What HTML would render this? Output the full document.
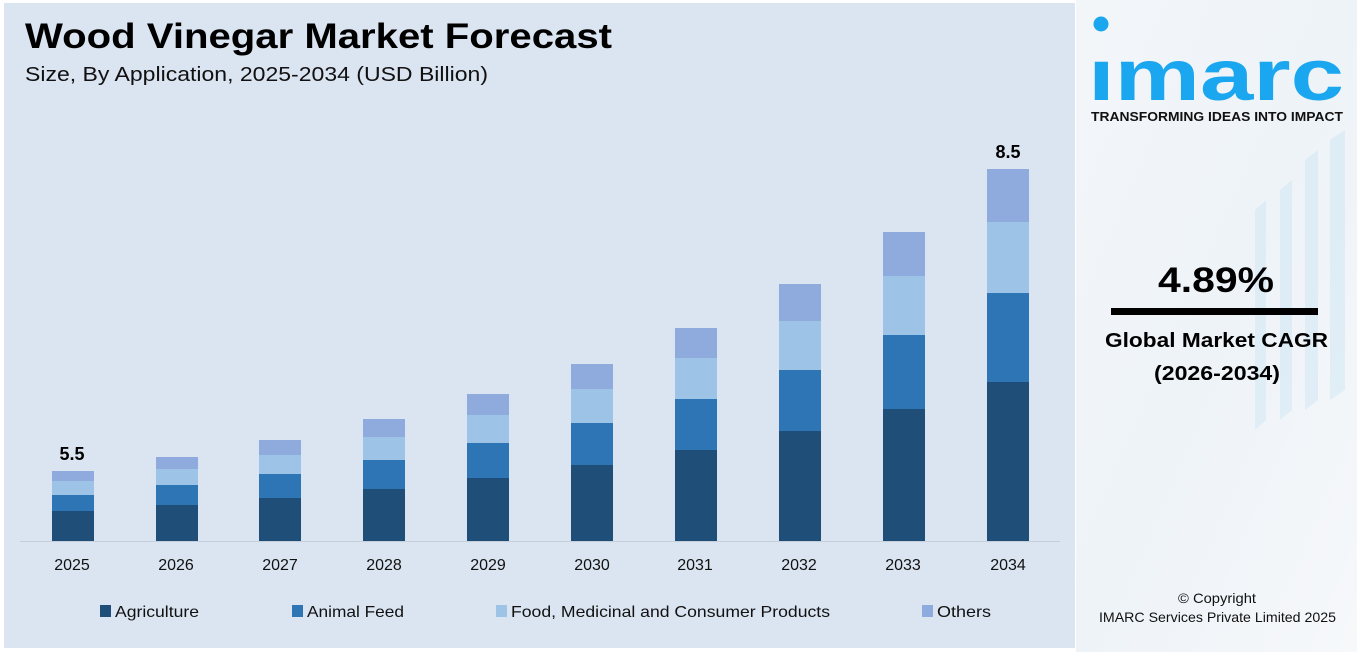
<!DOCTYPE html>
<html><head><meta charset="utf-8"><style>
body{margin:0;width:1357px;height:652px;overflow:hidden;background:#fff;font-family:"Liberation Sans",sans-serif}
</style></head><body>
<svg width="1357" height="652" xmlns="http://www.w3.org/2000/svg" font-family="Liberation Sans, sans-serif">
<defs><linearGradient id="rg" x1="0" y1="0" x2="1" y2="1"><stop offset="0" stop-color="#f3f6f9"/><stop offset="0.5" stop-color="#eef3f8"/><stop offset="1" stop-color="#f6f8fa"/></linearGradient></defs>
<rect x="0" y="0" width="1357" height="652" fill="#fff"/>
<rect x="4" y="3" width="1071" height="645" fill="#dbe4f1"/>
<rect x="1076" y="0" width="281" height="652" fill="url(#rg)"/>
<g opacity="0.35" fill="#bfe0f2">
<polygon points="1330,140 1345,130 1345,390 1330,400"/><polygon points="1305,160 1318,150 1318,400 1305,410"/><polygon points="1280,190 1292,180 1292,410 1280,420"/>
<polygon points="1255,210 1266,200 1266,420 1255,430"/></g>
<text x="25" y="48" font-size="35" font-weight="bold" fill="#000" textLength="587" lengthAdjust="spacingAndGlyphs">Wood Vinegar Market Forecast</text>
<text x="25" y="81" font-size="20" fill="#111" textLength="463" lengthAdjust="spacingAndGlyphs">Size, By Application, 2025-2034 (USD Billion)</text>
<line x1="20" y1="541.5" x2="1060" y2="541.5" stroke="#c5cfdc" stroke-width="1"/>
<g id="bars"></g>
<g font-size="16" fill="#111" text-anchor="middle">
<text x="72" y="570">2025</text><text x="176" y="570">2026</text><text x="280" y="570">2027</text><text x="384" y="570">2028</text><text x="488" y="570">2029</text><text x="592" y="570">2030</text><text x="695" y="570">2031</text><text x="799" y="570">2032</text><text x="903" y="570">2033</text><text x="1008" y="570">2034</text>
</g>
<text x="72" y="460" font-size="18" font-weight="bold" text-anchor="middle">5.5</text>
<text x="1008" y="158" font-size="18" font-weight="bold" text-anchor="middle">8.5</text>
<g font-size="16" fill="#111">
<rect x="100" y="605" width="11" height="12" fill="#1f4e79"/><text x="115" y="617" textLength="84" lengthAdjust="spacingAndGlyphs">Agriculture</text>
<rect x="292" y="605" width="11" height="12" fill="#2e75b6"/><text x="307" y="617" textLength="97" lengthAdjust="spacingAndGlyphs">Animal Feed</text>
<rect x="496" y="605" width="11" height="12" fill="#9dc3e6"/><text x="511" y="617" textLength="319" lengthAdjust="spacingAndGlyphs">Food, Medicinal and Consumer Products</text>
<rect x="922" y="605" width="11" height="12" fill="#8faadc"/><text x="937" y="617" textLength="54" lengthAdjust="spacingAndGlyphs">Others</text>
</g>
<circle cx="1101" cy="24" r="7.5" fill="#1ba6f0"/>
<text x="1088" y="100" font-size="72" font-weight="bold" fill="#1ba6f0" textLength="256" lengthAdjust="spacingAndGlyphs">ımarc</text>
<text x="1091" y="121" font-size="12.5" font-weight="bold" fill="#111" textLength="252" lengthAdjust="spacingAndGlyphs">TRANSFORMING IDEAS INTO IMPACT</text>
<text x="1158" y="292" font-size="35" font-weight="bold" fill="#000" textLength="116" lengthAdjust="spacingAndGlyphs">4.89%</text>
<rect x="1111" y="308" width="207" height="7" fill="#000"/>
<text x="1105" y="347" font-size="20" font-weight="bold" textLength="223" lengthAdjust="spacingAndGlyphs">Global Market CAGR</text>
<text x="1154" y="380" font-size="20" font-weight="bold" textLength="126" lengthAdjust="spacingAndGlyphs">(2026-2034)</text>
<text x="1178" y="603" font-size="14" fill="#111" textLength="78" lengthAdjust="spacingAndGlyphs">© Copyright</text>
<text x="1099" y="622" font-size="14" fill="#111" textLength="237" lengthAdjust="spacingAndGlyphs">IMARC Services Private Limited 2025</text>
</svg>
<script>
var d=[[52,471,481,495,511],[156,457,469,485,505],[259,440,455,474,498],[363,419,437,460,489],[467,394,415,443,478],[571,364,389,423,465],[675,328,358,399,450],[779,284,321,370,431],[883,232,276,335,409],[987,169,222,293,382]];
var c=["#8faadc","#9dc3e6","#2e75b6","#1f4e79"],g=document.getElementById("bars"),s="";
d.forEach(function(b){for(var i=0;i<4;i++){var y=b[i+1],y2=i<3?b[i+2]:541;s+='<rect x="'+b[0]+'" y="'+y+'" width="42" height="'+(y2-y)+'" fill="'+c[i]+'"/>';}});
g.innerHTML=s;
</script>
</body></html>
